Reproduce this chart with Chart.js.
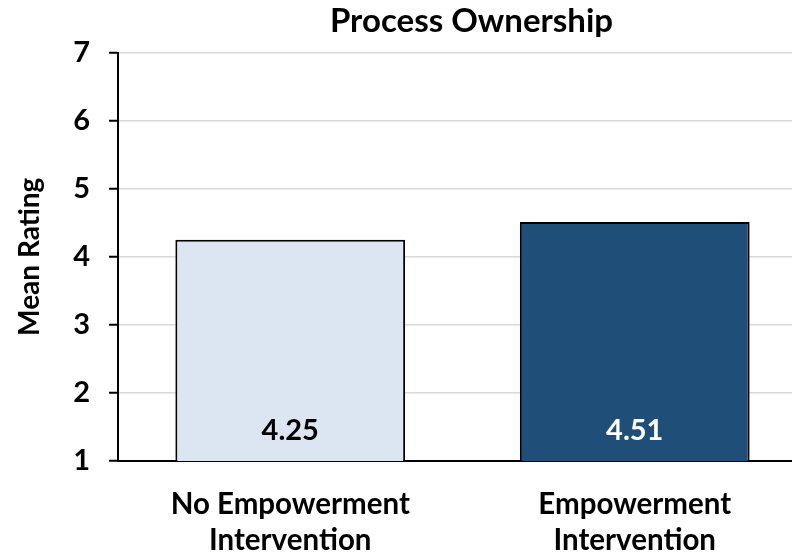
<!DOCTYPE html>
<html>
<head>
<meta charset="utf-8">
<script src="https://cdn.jsdelivr.net/npm/chart.js@4/dist/chart.umd.min.js"></script>
<style>
  html, body { margin: 0; padding: 0; background: #fff; overflow: hidden; }
  #wrap { width: 807px; height: 557px; }
</style>
</head>
<body>
<div id="wrap"><canvas id="chart"></canvas></div>
<script>
// ─── Data ─────────────────────────────────────────────────────────────────────

const categories = [['No Empowerment', 'Intervention'], ['Empowerment', 'Intervention']];
const meanRatings = [4.25, 4.51];
const valueLabels = ['4.25', '4.51'];
const yMin = 1;
const yMax = 7;

// ─── Styles ───────────────────────────────────────────────────────────────────

const FONT = 'Lato, "Open Sans", sans-serif';
const barFill = ['#dce6f2', '#1f4e79'];
const labelColor = ['#000000', '#ffffff'];

// Value labels drawn inside the bars, near the base
const barValueLabels = {
  id: 'barValueLabels',
  afterLayout(chart) {
    // nudge the title a little right, as in the original
    if (chart.titleBlock) {
      chart.titleBlock.left += 9;
      chart.titleBlock.right += 9;
    }
  },
  afterDatasetsDraw(chart) {
    const ctx = chart.ctx;
    const meta = chart.getDatasetMeta(0);
    const base = chart.scales.y.getPixelForValue(yMin);
    ctx.save();
    ctx.font = `bold 29px ${FONT}`;
    ctx.textAlign = 'center';
    ctx.textBaseline = 'middle';
    meta.data.forEach((bar, i) => {
      ctx.fillStyle = labelColor[i];
      ctx.fillText(valueLabels[i], bar.x, base - 30);
    });
    ctx.restore();
  },
};

new Chart(document.getElementById('chart'), {
  type: 'bar',
  data: {
    labels: categories,
    datasets: [{
      data: meanRatings,
      backgroundColor: barFill,
      borderColor: '#000',
      borderWidth: 2,
      borderSkipped: false,
      categoryPercentage: 1,
      barPercentage: 0.667,
    }],
  },
  options: {
    responsive: true,
    maintainAspectRatio: false,
    animation: false,
    layout: { padding: 0 },
    plugins: {
      legend: { display: false },
      tooltip: { enabled: false },
      title: {
        display: true,
        text: 'Process Ownership',
        fullSize: false,
        color: '#000',
        font: { family: FONT, size: 33, weight: 'bold', lineHeight: 1.2 },
        padding: { top: 2, bottom: 11 },
      },
    },
    scales: {
      x: {
        grid: { display: false, drawTicks: false },
        border: { color: '#000', width: 2 },
        ticks: {
          color: '#000',
          padding: 25,
          font: { family: FONT, size: 29.5, weight: 'bold', lineHeight: 1.22 },
        },
        afterFit(scale) { scale.height = 96; },
      },
      y: {
        min: yMin,
        max: yMax,
        grid: { color: '#d9d9d9', lineWidth: 1.5, tickColor: '#000', tickLength: 9, tickWidth: 2 },
        border: { color: '#000', width: 2 },
        ticks: {
          stepSize: 1,
          color: '#000',
          padding: 19,
          font: { family: FONT, size: 29, weight: 'bold' },
        },
        title: {
          display: true,
          text: 'Mean Rating',
          color: '#000',
          font: { family: FONT, size: 28, weight: 'bold', lineHeight: 1.2 },
          padding: { top: 13, bottom: 0 },
        },
        afterFit(scale) { scale.width = 118; },
      },
    },
  },
  plugins: [barValueLabels],
});
</script>
</body>
</html>
